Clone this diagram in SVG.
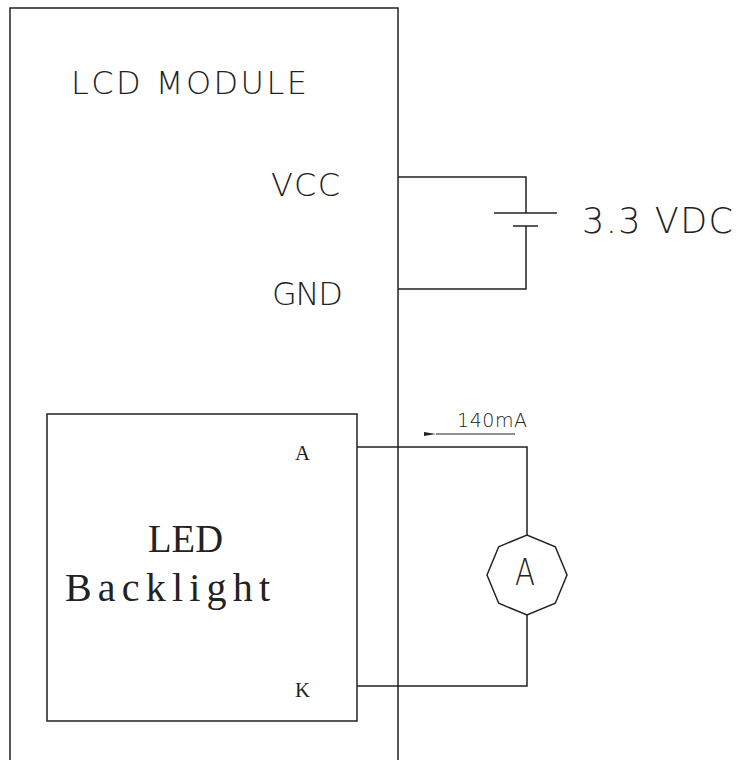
<svg xmlns="http://www.w3.org/2000/svg" width="739" height="760" viewBox="0 0 739 760">
<style>
.ln{fill:none;stroke:#222;stroke-width:1.5}
.sans{font-family:"DejaVu Sans","Liberation Sans",sans-serif;font-weight:200;fill:#222}
.serif{font-family:"Liberation Serif","DejaVu Serif",serif;fill:#222}
</style>
<defs>
<marker id="arr" markerWidth="12" markerHeight="6" refX="0" refY="3" orient="auto" markerUnits="userSpaceOnUse">
<path d="M0,3 L12,1 L12,5 Z" fill="#222"/>
</marker>
</defs>
<rect width="739" height="760" fill="#fff"/>
<g id="lcd-module">
<path class="ln" d="M10,770 V8 H398 V770"/>
<text class="sans" x="71" y="94" font-size="32" textLength="236" lengthAdjust="spacing">LCD MODULE</text>
<text class="sans" x="271" y="196" font-size="32" textLength="69" lengthAdjust="spacing">VCC</text>
<text class="sans" x="272" y="305" font-size="32" textLength="71" lengthAdjust="spacing">GND</text>
</g>
<g id="led-backlight">
<rect class="ln" x="47" y="414" width="310" height="307"/>
<text class="serif" x="148" y="552" font-size="40" textLength="75" lengthAdjust="spacingAndGlyphs">LED</text>
<text class="serif" x="65" y="601" font-size="40" textLength="205" lengthAdjust="spacing">Backlight</text>
<text class="serif" x="295" y="460" font-size="21" textLength="15" lengthAdjust="spacingAndGlyphs">A</text>
<text class="serif" x="295" y="697" font-size="21" textLength="15" lengthAdjust="spacingAndGlyphs">K</text>
</g>
<g id="battery">
<line class="ln" x1="494" y1="213" x2="557" y2="213"/>
<line class="ln" x1="513" y1="226" x2="538" y2="226"/>
<text class="sans" x="582" y="233" font-size="35" textLength="151" lengthAdjust="spacing">3.3 VDC</text>
</g>
<g id="ammeter">
<polygon class="ln" points="567,575 555.3,603.3 527,615 498.7,603.3 487,575 498.7,546.7 527,535 555.3,546.7"/>
<text class="sans" x="515" y="585" font-size="37" textLength="20" lengthAdjust="spacingAndGlyphs">A</text>
</g>
<g id="connectors">
<path class="ln" d="M398,177 H526 V213"/>
<path class="ln" d="M526,226 V289 H398"/>
<path class="ln" d="M357,447 H527 V535"/>
<path class="ln" d="M527,615 V686 H357"/>
<line class="ln" x1="515" y1="434" x2="436" y2="434" marker-end="url(#arr)" style="stroke-width:1.2"/>
<text class="sans" x="457" y="427" font-size="19" textLength="70" lengthAdjust="spacing">140mA</text>
</g>
</svg>
